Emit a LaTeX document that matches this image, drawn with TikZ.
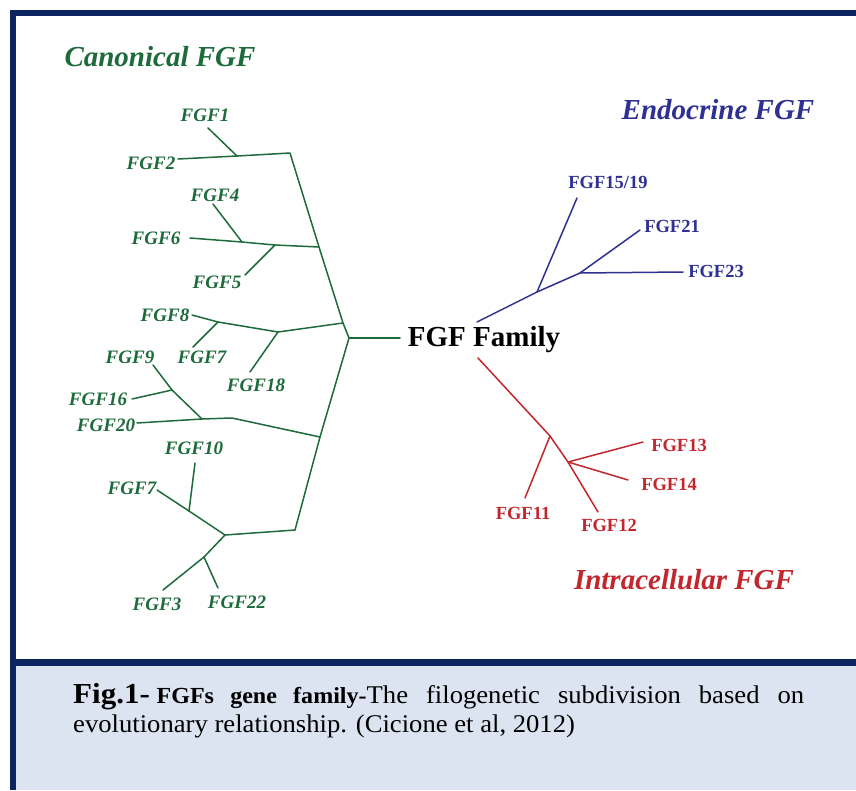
\documentclass[tikz,border=0pt]{standalone}
\usepackage{fontspec}
\setmainfont{Liberation Serif}
\newfontfamily\capfont[FakeStretch=1.045]{Liberation Serif}
\newfontfamily\figfont[FakeStretch=1.07]{Liberation Serif}
\definecolor{cgreen}{HTML}{1D6A3B}
\definecolor{cblue}{HTML}{2E3192}
\definecolor{cred}{HTML}{C1272D}
\definecolor{navy}{HTML}{0C2461}
\definecolor{capbg}{HTML}{DBE4F0}
\tikzset{
  gl/.style={font=\fontsize{19}{21}\selectfont\bfseries\itshape, text=cgreen, inner sep=0pt},
  bl/.style={font=\fontsize{18.5}{21}\selectfont\bfseries, text=cblue, inner sep=0pt},
  rl/.style={font=\fontsize{18.5}{21}\selectfont\bfseries, text=cred, inner sep=0pt},
  head/.style={font=\fontsize{29}{32}\selectfont\bfseries\itshape, inner sep=0pt},
  gline/.style={draw=cgreen, line width=1.5pt, line join=round, line cap=round},
  bline/.style={draw=cblue, line width=1.5pt, line join=round, line cap=round},
  rline/.style={draw=cred, line width=1.5pt, line join=round, line cap=round},
}
\begin{document}
\begin{tikzpicture}[x=1pt,y=-1pt]
\useasboundingbox (0,0) rectangle (856,790);
% frame and caption box
\fill[capbg] (16,666) rectangle (856,790);
\fill[navy] (10,10) rectangle (856,16);
\fill[navy] (10,10) rectangle (16,790);
\fill[navy] (16,659) rectangle (856,666);

% headings
\node[head, text=cgreen] (hcan) at (160,57) {Canonical FGF};
\node[head, text=cblue] (hend) at (718,110) {Endocrine FGF};
\node[head, text=cred] (hint) at (684,580) {Intracellular FGF};
\node[font=\fontsize{29}{32}\selectfont\bfseries, inner sep=0pt] (fam) at (484,340) {FGF Family};

% ---------- green tree coordinates
\coordinate (c1) at (208,128);
\coordinate (j12) at (237,156);
\coordinate (c2) at (178,159);
\coordinate (jA) at (290,153);
\coordinate (jB) at (319,247);
\coordinate (jC) at (343,323);
\coordinate (root) at (349,338);
\coordinate (famL) at (400,338);
\coordinate (jD) at (320,437);
\coordinate (jE) at (295,530);
\coordinate (c4) at (213,204);
\coordinate (j4) at (242,242);
\coordinate (c6) at (190,238);
\coordinate (j5) at (275,245);
\coordinate (c5) at (245,275);
\coordinate (c8) at (192,315);
\coordinate (j87) at (218,322);
\coordinate (j818) at (278,332);
\coordinate (c7a) at (193,347);
\coordinate (c18) at (250,372);
\coordinate (c9) at (153,365);
\coordinate (j916) at (172,390);
\coordinate (j920) at (202,419);
\coordinate (c16) at (132,399);
\coordinate (c20) at (137,423);
\coordinate (jbend) at (232,418);
\coordinate (c10) at (195,463);
\coordinate (j10) at (189,511);
\coordinate (c7b) at (157,490);
\coordinate (j3) at (225,535);
\coordinate (j322) at (204,557);
\coordinate (c3) at (163,590);
\coordinate (c22) at (218,588);

% green lines
\draw[gline] (c1) -- (j12);
\draw[gline] (c2) -- (j12) -- (jA) -- (jB) -- (jC) -- (root) -- (jD) -- (jE) -- (j3);
\draw[gline] (root) -- (famL);
\draw[gline] (c4) -- (j4);
\draw[gline] (c6) -- (j4) -- (j5) -- (jB);
\draw[gline] (c5) -- (j5);
\draw[gline] (c8) -- (j87) -- (j818) -- (jC);
\draw[gline] (c7a) -- (j87);
\draw[gline] (c18) -- (j818);
\draw[gline] (c9) -- (j916) -- (j920);
\draw[gline] (c16) -- (j916);
\draw[gline] (c20) -- (j920) -- (jbend) -- (jD);
\draw[gline] (c10) -- (j10);
\draw[gline] (c7b) -- (j10) -- (j3);
\draw[gline] (j3) -- (j322) -- (c3);
\draw[gline] (j322) -- (c22);

% green labels
\node[gl] (l1) at (205,115) {FGF1};
\node[gl] (l2) at (151,163) {FGF2};
\node[gl] (l4) at (215,195) {FGF4};
\node[gl] (l6) at (156,238) {FGF6};
\node[gl] (l5) at (217,282) {FGF5};
\node[gl] (l8) at (165,315) {FGF8};
\node[gl] (l7a) at (202,357) {FGF7};
\node[gl] (l18) at (256,385) {FGF18};
\node[gl] (l9) at (130,357) {FGF9};
\node[gl] (l16) at (98,399) {FGF16};
\node[gl] (l20) at (106,425) {FGF20};
\node[gl] (l10) at (194,448) {FGF10};
\node[gl] (l7b) at (132,488) {FGF7};
\node[gl] (l3) at (157,604) {FGF3};
\node[gl] (l22) at (237,602) {FGF22};

% ---------- blue tree
\coordinate (bs) at (477,322);
\coordinate (j15) at (537,292);
\coordinate (c15) at (577,198);
\coordinate (j23) at (580,273);
\coordinate (c21) at (640,230);
\coordinate (c23) at (683,272);
\draw[bline] (bs) -- (j15) -- (j23) -- (c21);
\draw[bline] (j15) -- (c15);
\draw[bline] (j23) -- (c23);
\node[bl] (l15) at (608,182) {FGF15/19};
\node[bl] (l21) at (672,226) {FGF21};
\node[bl] (l23) at (716,271) {FGF23};

% ---------- red tree
\coordinate (rs) at (478,358);
\coordinate (j11) at (550,436);
\coordinate (j13) at (568,462);
\coordinate (c12) at (598,512);
\coordinate (c11) at (525,498);
\coordinate (c13) at (643,442);
\coordinate (c14) at (628,480);
\draw[rline] (rs) -- (j11) -- (j13) -- (c12);
\draw[rline] (j11) -- (c11);
\draw[rline] (j13) -- (c13);
\draw[rline] (j13) -- (c14);
\node[rl] (l13) at (679,445) {FGF13};
\node[rl] (l14) at (669,484) {FGF14};
\node[rl] (l11) at (523,513) {FGF11};
\node[rl] (l12) at (609,525) {FGF12};

% ---------- caption
\node[anchor=base west, inner sep=0pt] (cap1) at (73,703)
  {\makebox[731pt][s]{{\figfont\fontsize{29}{31}\selectfont\bfseries Fig.1-} {\capfont\fontsize{23}{26}\selectfont\bfseries FGFs gene family-}{\capfont\fontsize{25.5}{28}\selectfont The filogenetic subdivision based on}}};
\node[anchor=base west, inner sep=0pt] (cap2) at (73,732)
  {\capfont\fontsize{25.5}{28}\selectfont evolutionary relationship. (Cicione et al, 2012)};
\end{tikzpicture}
\end{document}
